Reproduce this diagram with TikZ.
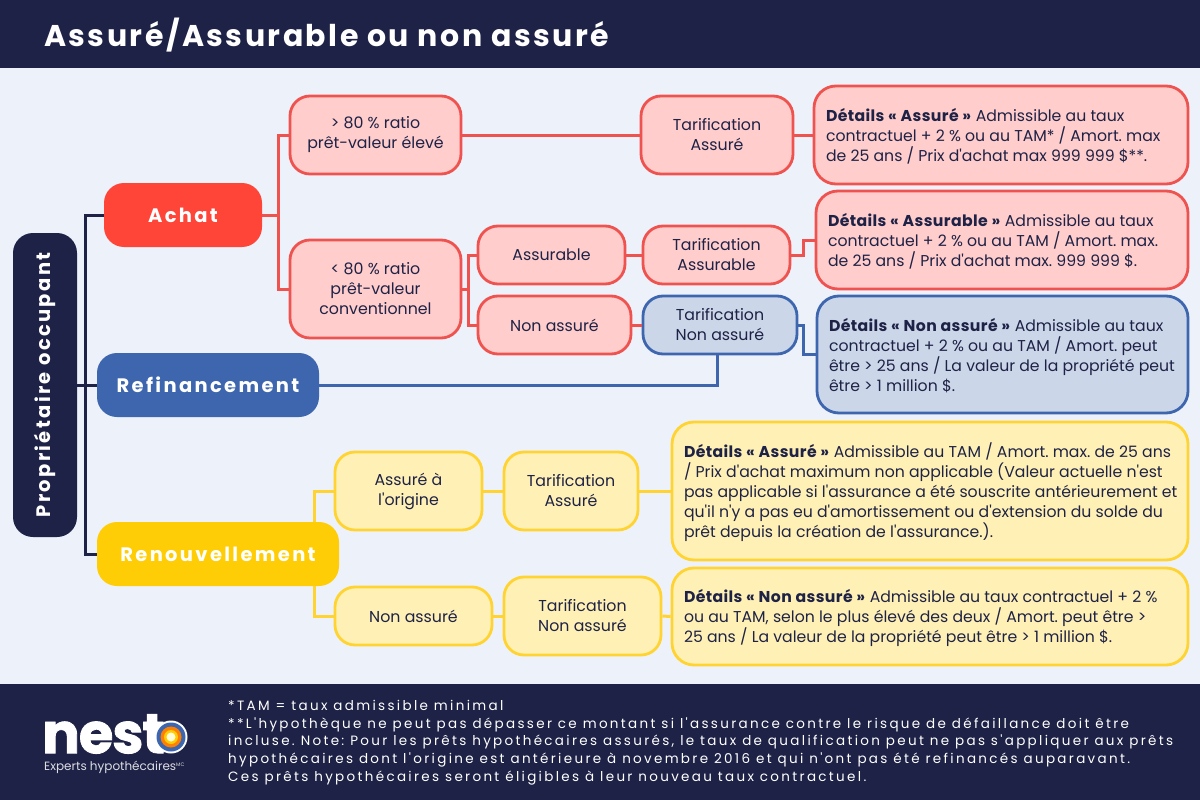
\documentclass[tikz,border=0pt]{standalone}
\usepackage{xcolor}
\usepackage{tikz}
\usepackage{fontspec}
\setmainfont{Poppins}
\newfontfamily\bodyfont[BoldFeatures={LetterSpace=2.5}]{Poppins}
\newfontfamily\titlefont[LetterSpace=8.2]{Poppins}
\newfontfamily\labelfont[LetterSpace=12]{Poppins}
\newfontfamily\notefont[LetterSpace=17.2]{Poppins}
\newfontfamily\logofont[LetterSpace=-2,BoldFeatures={FakeBold=1.5}]{Poppins}
\frenchspacing
\definecolor{nestonavy}{RGB}{30,34,70}
\definecolor{pagebg}{RGB}{237,241,250}
\definecolor{accentred}{RGB}{255,68,56}
\definecolor{borderred}{RGB}{239,83,80}
\definecolor{fillred}{RGB}{255,205,203}
\definecolor{accentblue}{RGB}{61,102,174}
\definecolor{fillblue}{RGB}{203,214,232}
\definecolor{accentyellow}{RGB}{255,205,5}
\definecolor{borderyellow}{RGB}{255,212,50}
\definecolor{fillyellow}{RGB}{255,241,181}
\begin{document}
\begin{tikzpicture}[
    x=1pt, y=-1pt,
    box/.style={rectangle, rounded corners=20pt, line width=2.8pt, inner sep=0pt, align=center, text=nestonavy, font=\bodyfont\fontsize{15.8}{20}\selectfont},
    redbox/.style={box, draw=borderred, fill=fillred},
    bluebox/.style={box, draw=accentblue, fill=fillblue},
    yellowbox/.style={box, draw=borderyellow, fill=fillyellow},
    details/.style={rounded corners=22pt, align=flush left, inner xsep=6pt, text width=#1, font=\bodyfont\fontsize{15.7}{20}\selectfont, execute at begin node={\leftskip=6pt}, execute at end node={\endgraf\vspace*{-2pt}}},
    mainbox/.style={rectangle, rounded corners=20pt, inner sep=0pt, text=white, minimum height=64pt, font=\labelfont\fontsize{19.5}{22}\selectfont\bfseries},
    navyline/.style={draw=nestonavy, line width=3pt},
    redline/.style={draw=borderred, line width=3pt},
    blueline/.style={draw=accentblue, line width=3pt},
    yellowline/.style={draw=borderyellow, line width=3pt}
]
\fill[pagebg] (0,0) rectangle (1200,800);
\useasboundingbox (0,0) rectangle (1200,800);
\fill[nestonavy] (0,0) rectangle (1200,68);
\fill[nestonavy] (0,684) rectangle (1200,800);

\node[anchor=west, inner sep=0pt, text=white, font=\titlefont\fontsize{30}{34}\selectfont\bfseries] (title) at (44,35) {Assuré/Assurable ou non assuré};

\coordinate (trunk) at (85,385);
\coordinate (achatfork) at (278,215);
\coordinate (lowfork) at (468,289);
\coordinate (renewtop) at (314,522);
\coordinate (renewbottom) at (314,586);
\coordinate (assurablebend) at (803,255);
\coordinate (nonbend) at (803,325);
\coordinate (refibend) at (717,354);

\node[mainbox, fill=nestonavy, rotate=90, minimum width=304pt] (owner) at (45,385) {Propriétaire occupant};
\node[mainbox, fill=accentred, minimum width=158pt] (achat) at (183,215) {Achat};
\node[mainbox, fill=accentblue, minimum width=222pt] (refi) at (208,385) {Refinancement};
\node[mainbox, fill=accentyellow, minimum width=242pt] (renew) at (218,554) {Renouvellement};

\node[redbox, minimum width=171pt, minimum height=78pt] (high) at (375.5,135) {> 80 \% ratio\\prêt-valeur élevé};
\node[redbox, minimum width=152pt, minimum height=78pt] (tarifassure) at (717,135) {Tarification\\Assuré};
\node[redbox, details=362pt, minimum height=98pt] (detailassure) at (1001,135) {\textbf{Détails « Assuré »} Admissible au taux\\contractuel + 2 \% ou au TAM* / Amort. max\\de 25 ans / Prix d'achat max 999 999 \$**.};

\node[redbox, minimum width=171pt, minimum height=98pt] (low) at (375.5,289) {< 80 \% ratio\\prêt-valeur\\conventionnel};
\node[redbox, minimum width=147pt, minimum height=58pt] (assurable) at (551.5,255) {Assurable};
\node[redbox, minimum width=147pt, minimum height=58pt] (tarifassurable) at (716.5,255) {Tarification\\Assurable};
\node[redbox, details=360pt, minimum height=98pt] (detailassurable) at (1002,240) {\textbf{Détails « Assurable »} Admissible au taux\\contractuel + 2 \% ou au TAM / Amort. max.\\de 25 ans / Prix d'achat max. 999 999 \$.};
\node[redbox, minimum width=153pt, minimum height=58pt] (nonassure) at (554.5,325) {Non assuré};
\node[bluebox, minimum width=154pt, minimum height=58pt] (tarifnon) at (720,325) {Tarification\\Non assuré};
\node[bluebox, details=359pt, minimum height=117pt] (detailnon) at (1002.5,354.5) {\textbf{Détails « Non assuré »} Admissible au taux\\contractuel + 2 \% ou au TAM / Amort. peut\\être > 25 ans / La valeur de la propriété peut\\être > 1 million \$.};

\node[yellowbox, minimum width=147pt, minimum height=78pt] (origine) at (408.5,491) {Assuré à\\l'origine};
\node[yellowbox, minimum width=134pt, minimum height=78pt] (tarifrenew) at (571,491) {Tarification\\Assuré};
\node[yellowbox, details=504pt, minimum height=138pt] (detailrenew) at (930,491) {\textbf{Détails « Assuré »} Admissible au TAM / Amort. max. de 25 ans\\/ Prix d'achat maximum non applicable (Valeur actuelle n'est\\pas applicable si l'assurance a été souscrite antérieurement et\\qu'il n'y a pas eu d'amortissement ou d'extension du solde du\\prêt depuis la création de l'assurance.).};
\node[yellowbox, minimum width=157pt, minimum height=58pt] (nonrenew) at (413.5,616) {Non assuré};
\node[yellowbox, minimum width=157pt, minimum height=78pt] (tarifnonrenew) at (582.5,616) {Tarification\\Non assuré};
\node[yellowbox, details=504pt, minimum height=97pt] (detailnonrenew) at (930,616.5) {\textbf{Détails « Non assuré »} Admissible au taux contractuel + 2 \%\\ou au TAM, selon le plus élevé des deux / Amort. peut être >\\25 ans / La valeur de la propriété peut être > 1 million \$.};

\draw[navyline] (owner.south) -- (refi.west);
\draw[navyline] (achat.west) -| (trunk) |- (renew.west);

\draw[redline] (achat.east) -- (achatfork);
\draw[redline] (high.west) -| (achatfork) |- (low.west);
\draw[redline] (high.east) -- (tarifassure.west);
\draw[redline] (tarifassure.east) -- (detailassure.west |- tarifassure.east);
\draw[redline] (low.east) -- (lowfork);
\draw[redline] (assurable.west) -| (lowfork) |- (nonassure.west);
\draw[redline] (assurable.east) -- (tarifassurable.west);
\draw[redline] (tarifassurable.east) -- (assurablebend) |- (detailassurable.west);
\draw[redline] (nonassure.east) -- (tarifnon.west);

\draw[blueline] (tarifnon.east) -- (nonbend) |- (detailnon.west);
\draw[blueline] (refi.east) -| (refibend);

\draw[yellowline] (renewtop) |- (origine.west);
\draw[yellowline] (renewbottom) |- (nonrenew.west);
\draw[yellowline] (origine.east) -- (tarifrenew.west);
\draw[yellowline] (tarifrenew.east) -- (detailrenew.west);
\draw[yellowline] (nonrenew.east) -- (tarifnonrenew.west);
\draw[yellowline] (tarifnonrenew.east) -- (detailnonrenew.west);

\node[anchor=north west, inner sep=0pt, align=left, text=white, font=\notefont\fontsize{13.5}{17.7}\selectfont] (notes) at (228,700) {*TAM = taux admissible minimal\\**L'hypothèque ne peut pas dépasser ce montant si l'assurance contre le risque de défaillance doit être\\incluse. Note: Pour les prêts hypothécaires assurés, le taux de qualification peut ne pas s'appliquer aux prêts\\hypothécaires dont l'origine est antérieure à novembre 2016 et qui n'ont pas été refinancés auparavant.\\Ces prêts hypothécaires seront éligibles à leur nouveau taux contractuel.};

\node[anchor=west, inner sep=0pt, text=white, font=\logofont\fontsize{56}{56}\selectfont\bfseries] (nestword) at (42,734) {nest};
\fill[white] (171,737) circle (16.5pt);
\fill[accentblue] (171,737) circle (14.5pt);
\fill[orange] (171,737) circle (10.5pt);
\fill[accentyellow] (171,737) circle (7pt);
\fill[white!85!yellow] (171,737) circle (4.5pt);
\node[anchor=west, inner sep=0pt, text=white!85!nestonavy, font=\bodyfont\fontsize{12}{14}\selectfont] (nestline) at (44,767) {Experts hypothécaires\raisebox{4pt}{\fontsize{5}{5}\selectfont MC}};
\end{tikzpicture}
\end{document}
